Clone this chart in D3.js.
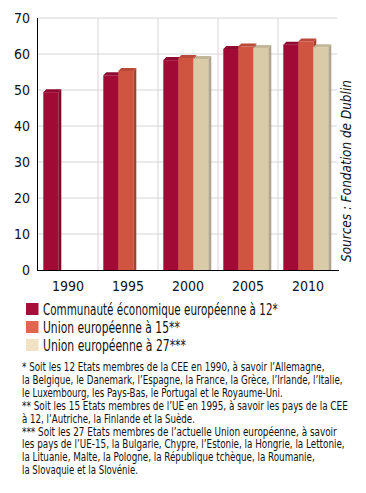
<!DOCTYPE html>
<html><head><meta charset="utf-8">
<script src="https://cdn.jsdelivr.net/npm/d3@7"></script>
<style>body{margin:0;background:#fff}svg{display:block}</style>
</head><body><svg id="c" width="366" height="493"></svg>
<script>
const years = ["1990","1995","2000","2005","2010"];
const seriesNames = ["Communauté économique européenne à 12*","Union européenne à 15**","Union européenne à 27***"];
const cee12 = [49.4, 54.1, 58.3, 61.4, 62.6];
const ue15 = [null, 55.3, 58.9, 62.1, 63.5];
const ue27 = [null, null, 58.6, 61.7, 61.9];
const yTicks = [0,10,20,30,40,50,60,70];
const footnotes = [
 "* Soit les 12 Etats membres de la CEE en 1990, à savoir l’Allemagne,",
 "la Belgique, le Danemark, l’Espagne, la France, la Grèce, l’Irlande, l’Italie,",
 "le Luxembourg, les Pays-Bas, le Portugal et le Royaume-Uni.",
 "** Soit les 15 Etats membres de l’UE en 1995, à savoir les pays de la CEE",
 "à 12, l’Autriche, la Finlande et la Suède.",
 "*** Soit les 27 Etats membres de l’actuelle Union européenne, à savoir",
 "les pays de l’UE-15, la Bulgarie, Chypre, l’Estonie, la Hongrie, la Lettonie,",
 "la Lituanie, Malte, la Pologne, la République tchèque, la Roumanie,",
 "la Slovaquie et la Slovénie."
];
const source = "Sources : Fondation de Dublin";

const font = "'Liberation Sans Narrow','DejaVu Sans Condensed','Arial Narrow',sans-serif";
const front = ["#a20a36","#cf5541","#d9caa8"];
const side = ["#7d0a2a","#a6402f","#b1a68d"];
const topc = ["#8e0a30","#b94a39","#c2b699"];
const legendC = ["#a50d3a","#e0664f","#f0e2c2"];

const svg = d3.select("#c");
const x0 = d3.scaleBand().domain(years).range([38,338]).padding(0);
const x1 = d3.scaleBand().domain([0,1,2]).range([5.3,50.3]).padding(0);
const y = d3.scaleLinear().domain([0,70]).range([270,18]);
const series = [cee12, ue15, ue27];
const D = 3;

// grid
const g = svg.append("g");
g.selectAll("line.h").data(yTicks.filter(t=>t>0)).join("line")
 .attr("x1",38).attr("x2",337).attr("y1",d=>y(d)).attr("y2",d=>y(d))
 .attr("stroke","#d6d6d6").attr("stroke-width",1);
g.selectAll("line.v").data(years.slice(1)).join("line")
 .attr("x1",d=>x0(d)).attr("x2",d=>x0(d)).attr("y1",18).attr("y2",270)
 .attr("stroke","#d6d6d6").attr("stroke-width",1);

// bars
series.forEach((vals, s) => {
  vals.forEach((v, i) => {
    if (v == null) return;
    const bx = x0(years[i]) + x1(s), w = x1.bandwidth(), ty = y(v), by = y(0);
    svg.append("polygon")
      .attr("points", `${bx+w},${ty} ${bx+w+D},${ty-D} ${bx+w+D},${by} ${bx+w},${by}`)
      .attr("fill", side[s]);
    svg.append("polygon")
      .attr("points", `${bx},${ty} ${bx+D},${ty-D} ${bx+w+D},${ty-D} ${bx+w},${ty}`)
      .attr("fill", topc[s]);
    svg.append("rect").attr("x",bx).attr("y",ty).attr("width",w).attr("height",by-ty).attr("fill",front[s]);
  });
});

// axes
svg.append("line").attr("x1",37.5).attr("x2",37.5).attr("y1",18).attr("y2",270.5).attr("stroke","#000");
svg.append("line").attr("x1",37).attr("x2",339).attr("y1",270.5).attr("y2",270.5).attr("stroke","#000");

svg.selectAll("text.yt").data(yTicks).join("text")
 .attr("x",30).attr("y",d=>y(d)+5).attr("text-anchor","end")
 .attr("font-family",font).attr("font-size",14).attr("fill","#111").text(d=>d);
svg.selectAll("text.xt").data(years).join("text")
 .attr("x",d=>x0(d)+x0.bandwidth()/2).attr("y",291).attr("text-anchor","middle")
 .attr("font-family",font).attr("font-size",14).attr("fill","#111").text(d=>d);

// helper: text squeezed horizontally to a target width
function squeezed(parent, tx, ty, str, size, width, italic) {
  const gg = parent.append("g");
  const t = gg.append("text").attr("x",0).attr("y",0).attr("font-family",font)
    .attr("font-size",size).attr("fill","#111").text(str);
  if (italic) t.attr("font-style","italic");
  const nat = t.node().getComputedTextLength();
  gg.attr("transform",`translate(${tx},${ty}) scale(${width/nat},1)`);
  return gg;
}

// source (rotated)
{
  const gs = svg.append("g").attr("transform","translate(351,171) rotate(-90)");
  const t = gs.append("text").attr("font-family",font).attr("font-style","italic")
    .attr("font-size",14).attr("fill","#111").text(source);
  const nat = t.node().getComputedTextLength();
  t.attr("transform",`scale(${182/nat},1) translate(${-nat/2},0)`);
}

// legend
const legW = [235,137,143];
seriesNames.forEach((n,i)=>{
  const ly = 303 + i*18;
  svg.append("rect").attr("x",26).attr("y",ly).attr("width",12.5).attr("height",12).attr("fill",legendC[i]);
  squeezed(svg, 43, ly+12, n, 15, legW[i]);
});

// footnotes
const fnW = [303,321,261,326,173,315,323,293,116];
footnotes.forEach((t,i)=>{
  squeezed(svg, 22, 371+i*12.9, t, 12, fnW[i]);
});
</script></body></html>
